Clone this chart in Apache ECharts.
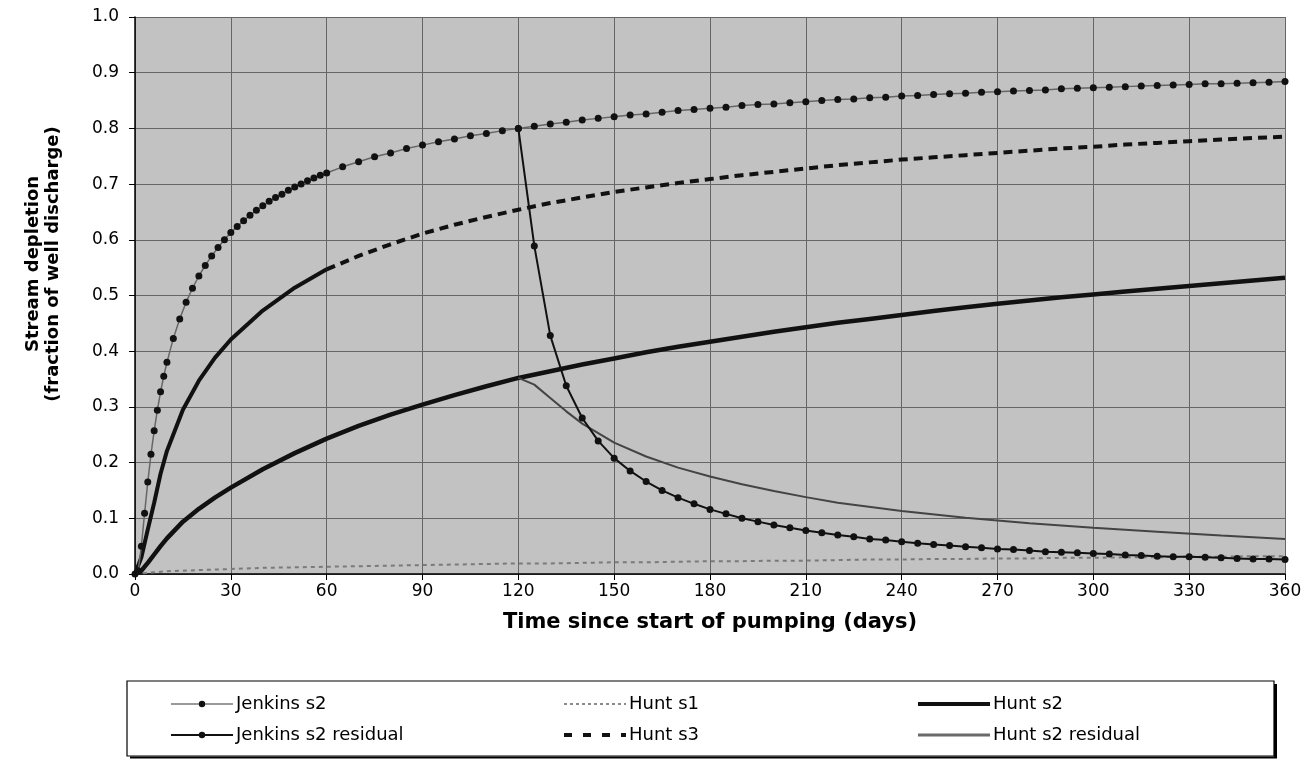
<!DOCTYPE html>
<html>
<head>
<meta charset="utf-8">
<script src="https://cdn.jsdelivr.net/npm/echarts@6/dist/echarts.min.js"></script>
<style>
  html, body { margin: 0; padding: 0; background: #fff; }
  #chart { width: 1316px; height: 760px; }
</style>
</head>
<body>
<div id="chart"></div>
<script>
// time (days) for the Jenkins curves
const days = [0,1,2,3,4,5,6,7,8,9,10,
  12,14,16,18,20,22,24,26,28,30,32,34,36,38,40,42,44,46,48,50,52,54,56,58,60,
  65,70,75,80,85,90,95,100,105,110,115,120,125,130,135,140,145,150,155,160,
  165,170,175,180,185,190,195,200,205,210,215,220,225,230,235,240,245,250,255,260,
  265,270,275,280,285,290,295,300,305,310,315,320,325,330,335,340,345,350,355,360];

const jenkinsS2 = [0,0.006,0.050,0.109,0.165,0.215,0.257,0.294,0.327,0.355,0.380,
  0.423,0.458,0.488,0.513,0.535,0.554,0.571,0.586,0.600,0.613,0.624,0.634,0.644,0.653,0.661,0.669,0.676,0.682,0.689,0.695,0.700,0.706,0.711,0.716,0.720,
  0.731,0.740,0.749,0.756,0.764,0.770,0.776,0.781,0.787,0.791,0.796,0.800,0.804,0.808,0.811,0.815,0.818,0.821,0.824,0.826,
  0.829,0.832,0.834,0.836,0.838,0.841,0.843,0.844,0.846,0.848,0.850,0.852,0.853,0.855,0.856,0.858,0.859,0.861,0.862,0.863,
  0.865,0.866,0.867,0.868,0.869,0.871,0.872,0.873,0.874,0.875,0.876,0.877,0.878,0.879,0.880,0.880,0.881,0.882,0.883,0.884];

// residual after pumping stops at day 120 (days 120..360 every 5)
const jenkinsResidual = [0.800,0.589,0.428,0.338,0.280,0.239,0.208,0.185,0.166,0.150,
  0.137,0.126,0.116,0.108,0.100,0.094,0.088,0.083,0.078,0.074,
  0.070,0.067,0.063,0.061,0.058,0.055,0.053,0.051,0.049,0.047,
  0.045,0.044,0.042,0.040,0.039,0.038,0.037,0.036,0.034,0.033,
  0.032,0.031,0.031,0.030,0.029,0.028,0.027,0.027,0.026];

// time (days) for the Hunt curves
const huntDays = [0,2,4,6,8,10,15,20,25,30,40,50,60,
  70,80,90,100,110,120,130,140,150,160,170,180,190,200,210,220,230,240,
  250,260,270,280,290,300,310,320,330,340,350,360];

const huntS1 = [0,0.001,0.002,0.003,0.004,0.005,0.006,0.007,0.008,0.009,0.011,0.012,0.013,
  0.014,0.015,0.016,0.017,0.018,0.019,0.019,0.020,0.021,0.021,0.022,0.023,0.023,0.024,0.024,0.025,0.026,0.026,
  0.027,0.027,0.028,0.028,0.029,0.029,0.030,0.030,0.031,0.031,0.032,0.032];

const huntS2 = [0,0.006,0.020,0.035,0.050,0.064,0.094,0.117,0.137,0.155,0.188,0.217,0.243,
  0.266,0.286,0.304,0.321,0.337,0.352,0.364,0.376,0.387,0.398,0.408,0.417,0.426,0.435,0.443,0.451,0.458,0.465,
  0.472,0.479,0.485,0.491,0.497,0.502,0.507,0.512,0.517,0.522,0.527,0.532];

const huntS3 = [0,0.030,0.080,0.128,0.180,0.221,0.295,0.347,0.388,0.421,0.473,0.514,0.547,
  0.571,0.592,0.611,0.627,0.641,0.654,0.666,0.676,0.686,0.694,0.702,0.709,0.716,0.722,0.728,0.734,0.739,0.744,
  0.748,0.752,0.756,0.760,0.764,0.767,0.771,0.774,0.777,0.780,0.783,0.785];

const huntResDays = [120,125,130,135,140,150,160,170,180,190,200,210,220,240,260,280,300,320,340,360];
const huntS2Residual = [0.352,0.340,0.316,0.292,0.270,0.236,0.211,0.191,0.175,0.161,0.149,0.138,0.128,0.113,0.101,0.091,0.083,0.076,0.069,0.063];

const pairs = (xs, ys) => xs.map((x, i) => [x, ys[i]]);
const jenkinsResDays = days.filter(d => d >= 120);

const FONT = "'DejaVu Sans', sans-serif";
const noDot = { opacity: 0 };

const chart = echarts.init(document.getElementById('chart'));

const legendBase = {
  orient: 'vertical',
  top: 695,
  itemWidth: 62,
  itemHeight: 8,
  itemGap: 13,
  padding: 0,
  textStyle: { fontFamily: FONT, fontSize: 18, lineHeight: 18, color: '#000', padding: [0, 0, 0, -2] }
};

chart.setOption({
  animation: false,
  backgroundColor: '#fff',
  grid: {
    left: 135, right: 31, top: 17, bottom: 186,
    show: true,
    backgroundColor: '#c2c2c2',
    borderWidth: 0
  },
  legend: [
    Object.assign({}, legendBase, { left: 170, data: [
      { name: 'Jenkins s2', lineStyle: { color: '#9a9a9a', width: 2 } },
      { name: 'Jenkins s2 residual', lineStyle: { color: '#111', width: 2 } }
    ] }),
    Object.assign({}, legendBase, { left: 562, data: [
      { name: 'Hunt s1', itemStyle: noDot, lineStyle: { color: '#8a8a8a', width: 2, type: [3, 3] } },
      { name: 'Hunt s3', itemStyle: noDot, lineStyle: { color: '#111', width: 4, type: [8, 11] } }
    ] }),
    Object.assign({}, legendBase, { left: 916, itemWidth: 72, data: [
      { name: 'Hunt s2', itemStyle: noDot, lineStyle: { color: '#111', width: 4 } },
      { name: 'Hunt s2 residual', itemStyle: noDot, lineStyle: { color: '#6a6a6a', width: 3 } }
    ] })
  ],
  graphic: [
    { type: 'text', x: 43, y: 264, rotation: Math.PI / 2,
      style: { text: 'Stream depletion\n(fraction of well discharge)', align: 'center', verticalAlign: 'middle',
        fontFamily: FONT, fontSize: 18, fontWeight: 'bold', lineHeight: 20, fill: '#000' } },
    { type: 'rect', shape: { x: 127, y: 681, width: 1147, height: 75 },
      style: { fill: 'none', stroke: '#000', lineWidth: 1.2 }, z: -1 },
    { type: 'line', shape: { x1: 1275.5, y1: 684, x2: 1275.5, y2: 758 },
      style: { stroke: '#000', lineWidth: 3 } },
    { type: 'line', shape: { x1: 130, y1: 757.5, x2: 1277, y2: 757.5 },
      style: { stroke: '#000', lineWidth: 2 } }
  ],
  xAxis: {
    type: 'value',
    min: 0, max: 360, interval: 30,
    name: 'Time since start of pumping (days)',
    nameLocation: 'middle',
    nameGap: 38,
    nameTextStyle: { fontFamily: FONT, fontSize: 21, fontWeight: 'bold', color: '#000' },
    axisLine: { lineStyle: { color: '#000', width: 1.5 } },
    axisTick: { show: true, length: 6, lineStyle: { color: '#000' } },
    axisLabel: { fontFamily: FONT, fontSize: 17, color: '#000', margin: 9 },
    splitLine: { show: true, lineStyle: { color: '#666', width: 1 } }
  },
  yAxis: {
    type: 'value',
    min: 0, max: 1, interval: 0.1,
    axisLine: { show: true, lineStyle: { color: '#000', width: 1.5 } },
    axisTick: { show: true, length: 6, lineStyle: { color: '#000' } },
    axisLabel: { fontFamily: FONT, fontSize: 17, color: '#000', margin: 16,
      formatter: v => v.toFixed(1) },
    splitLine: { show: true, lineStyle: { color: '#666', width: 1 } }
  },
  series: [
    {
      name: 'Hunt s1', type: 'line', symbol: 'none',
      data: pairs(huntDays, huntS1),
      lineStyle: { color: '#7a7a7a', width: 2, type: [4, 4] },
      itemStyle: { color: '#7a7a7a' }, z: 2
    },
    {
      name: 'Hunt s2', type: 'line', symbol: 'none',
      data: pairs(huntDays, huntS2),
      lineStyle: { color: '#111', width: 4.5 },
      itemStyle: { color: '#111' }, z: 3
    },
    {
      name: 'Hunt s3 early', type: 'line', symbol: 'none',
      data: pairs(huntDays.slice(0, 13), huntS3.slice(0, 13)),
      lineStyle: { color: '#111', width: 4 }, z: 3
    },
    {
      name: 'Hunt s3', type: 'line', symbol: 'none',
      data: pairs(huntDays.slice(12), huntS3.slice(12)),
      lineStyle: { color: '#111', width: 4, type: [9, 6] },
      itemStyle: { color: '#111' }, z: 3
    },
    {
      name: 'Hunt s2 residual', type: 'line', symbol: 'none',
      data: pairs(huntResDays, huntS2Residual),
      lineStyle: { color: '#444', width: 2 },
      itemStyle: { color: '#555' }, z: 3
    },
    {
      name: 'Jenkins s2', type: 'line', symbol: 'circle', symbolSize: 7,
      data: pairs(days, jenkinsS2),
      lineStyle: { color: '#666', width: 1.5 },
      itemStyle: { color: '#111', borderWidth: 0 }, z: 4
    },
    {
      name: 'Jenkins s2 residual', type: 'line', symbol: 'circle', symbolSize: 7,
      data: pairs(jenkinsResDays, jenkinsResidual),
      lineStyle: { color: '#111', width: 2 },
      itemStyle: { color: '#111', borderWidth: 0 }, z: 4
    }
  ]
});
</script>
</body>
</html>
